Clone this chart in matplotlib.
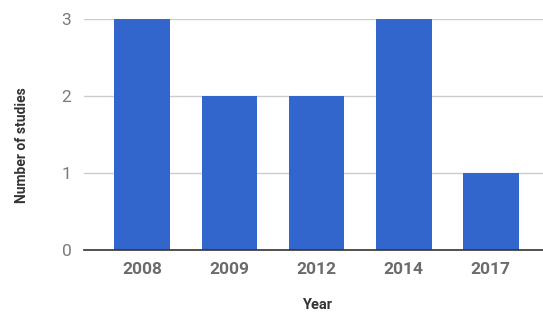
import matplotlib
matplotlib.use('Agg')
import matplotlib.pyplot as plt

years = ['2008', '2009', '2012', '2014', '2017']
studies = [3, 2, 2, 3, 1]
yticks = [0, 1, 2, 3]

plt.rcParams['font.family'] = ['Roboto', 'DejaVu Sans']

fig = plt.figure(figsize=(5.43, 3.12), dpi=100)
ax = fig.add_axes([84 / 543, 1 - 250 / 312, 1 - 84 / 543, 231 / 312])

x = range(len(years))
ax.bar(x, studies, width=0.64, color='#3366cc', zorder=2)
ax.set_xlim(-0.67, 4.6)
ax.set_ylim(0, 3)
ax.set_yticks(yticks)
ax.set_xticks(list(x))
ax.set_xticklabels(years, fontsize=12.5, fontweight='bold', color='#6b6b6b')
ax.set_yticklabels([str(v) for v in yticks], fontsize=12.5, color='#7a7a7a')
ax.tick_params(axis='both', length=0)
ax.tick_params(axis='y', pad=9)
ax.tick_params(axis='x', pad=8.5)
ax.grid(axis='y', color='#cccccc', linewidth=1, zorder=0)
ax.set_axisbelow(True)
for s in ['top', 'right', 'left']:
    ax.spines[s].set_visible(False)
ax.spines['bottom'].set_color('#333333')
ax.spines['bottom'].set_linewidth(1.2)
ax.spines['bottom'].set_zorder(3)

fig.text(22 / 543, 1 - 145 / 312, 'Number of studies', rotation=90, ha='center', va='center',
         fontsize=10, fontweight='bold', color='#333333')
fig.text(317 / 543, 1 - 305 / 312, 'Year', ha='center', va='center',
         fontsize=10.5, fontweight='bold', color='#333333')

fig.savefig('out.png', dpi=100)
